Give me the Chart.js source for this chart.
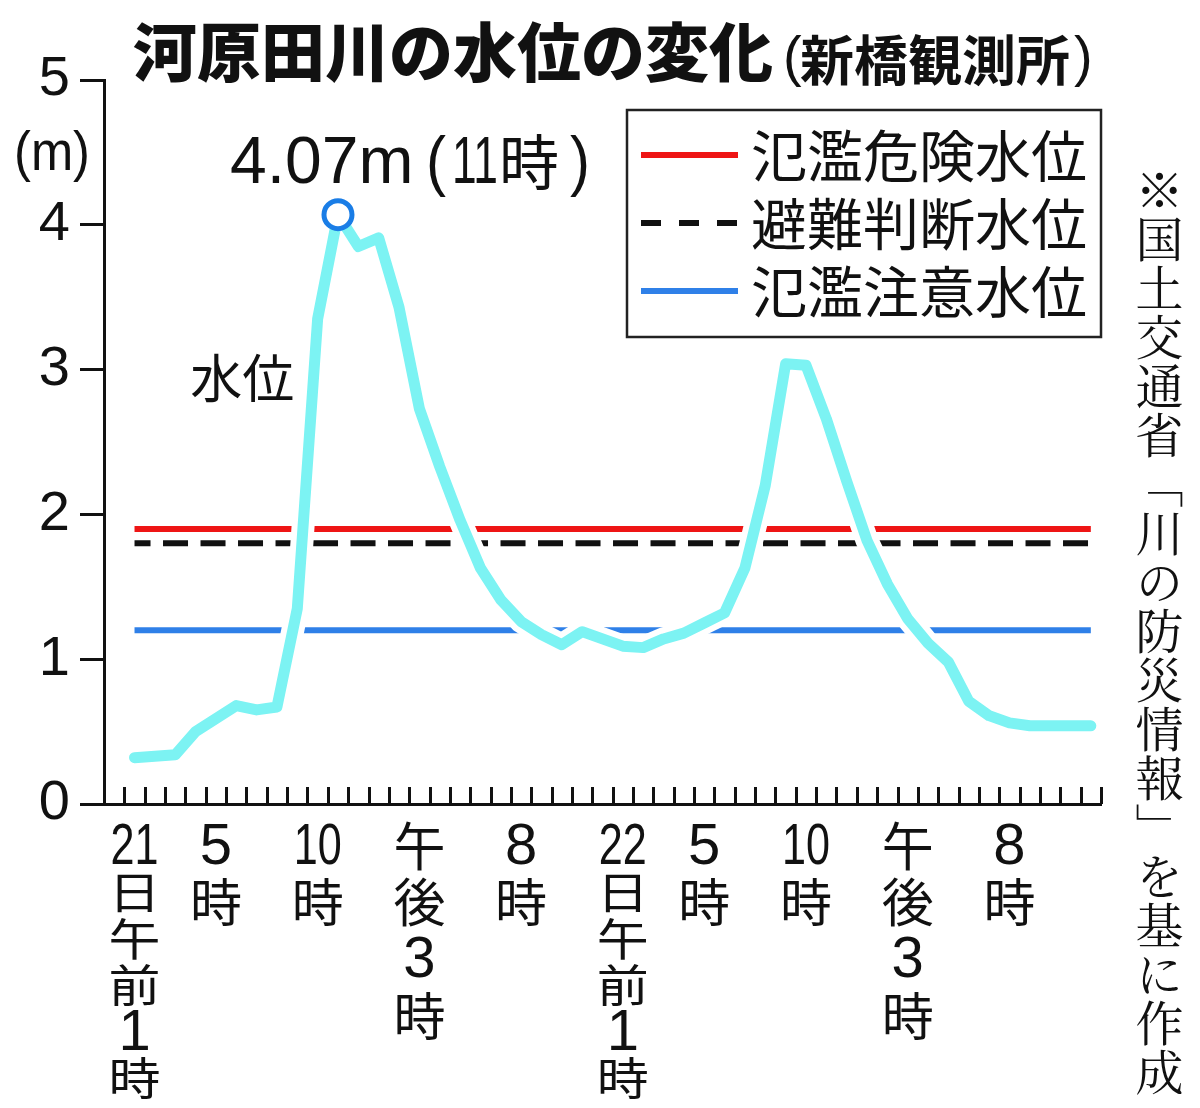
<!DOCTYPE html>
<html lang="ja">
<head>
<meta charset="utf-8">
<title>河原田川の水位の変化</title>
<script src="https://cdn.jsdelivr.net/npm/chart.js@4.4.1/dist/chart.umd.min.js"></script>
<style>
  html, body { margin: 0; padding: 0; background: #fff; }
  #wrap { position: relative; width: 1200px; height: 1108px; }
  #note {
    position: absolute; left: 1135px; top: 166px;
    writing-mode: vertical-rl;
    font-family: "Noto Serif CJK JP", "Noto Sans CJK JP", serif;
    font-size: 48px; line-height: 1; letter-spacing: 1px; color: #111;
  }
</style>
</head>
<body>
<div id="wrap">
  <canvas id="levelChart" width="1200" height="1108"></canvas>
  <div id="note">※国土交通省「川の防災情報」を基に作成</div>
</div>
<script>
// hours 0..48 (21日0時 .. 23日0時), one slot per hour
const hours = Array.from({length: 49}, (_, i) => i);

// x tick labels (vertical stacks), only every few hours
const tickLabels = {
  1: ['21', '日', '午', '前', '1', '時'],
  5: ['5', '時'],
  10: ['10', '時'],
  15: ['午', '後', '3', '時'],
  20: ['8', '時'],
  25: ['22', '日', '午', '前', '1', '時'],
  29: ['5', '時'],
  34: ['10', '時'],
  39: ['午', '後', '3', '時'],
  44: ['8', '時']
};

// water level (m), 新橋観測所
const waterLevel = [null,
  0.32, 0.33, 0.34, 0.50, 0.59, 0.68, 0.65, 0.67, 1.35, 3.35,
  4.07, 3.85, 3.91, 3.43, 2.73, 2.33, 1.96, 1.63, 1.41, 1.26,
  1.17, 1.10, 1.19, 1.14, 1.09, 1.08, 1.14, 1.18, 1.25, 1.32,
  1.63, 2.20, 3.04, 3.03, 2.66, 2.23, 1.82, 1.52, 1.28, 1.11,
  0.98, 0.71, 0.61, 0.56, 0.54, 0.54, 0.54, 0.54];

const dangerLevel = 1.9;    // 氾濫危険水位
const evacLevel = 1.8;      // 避難判断水位
const cautionLevel = 1.2;   // 氾濫注意水位

const yTicks = [0, 1, 2, 3, 4, 5];

const flat = v => waterLevel.map(d => (d === null ? null : v));
const peakValue = Math.max(...waterLevel.filter(d => d !== null));
const peakIndex = waterLevel.indexOf(peakValue);
const peakData = waterLevel.map((d, i) => (i === peakIndex ? d : null));

const CJK = '"Noto Sans CJK JP", sans-serif';
const LAT = '"Liberation Sans", Arial, sans-serif';

const overlay = {
  id: 'overlay',
  afterDraw(chart) {
    const ctx = chart.ctx;
    const x = chart.scales.x;
    const y = chart.scales.y;
    const slot = (x.right - x.left) / hours.length;

    ctx.save();
    ctx.fillStyle = '#111';
    ctx.strokeStyle = '#111';

    // x tick marks, pointing up, on the hour boundaries
    ctx.lineWidth = 3;
    ctx.beginPath();
    hours.forEach(h => {
      const px = Math.round(x.getPixelForValue(h) + slot / 2) + 0.5;
      ctx.moveTo(px, y.bottom);
      ctx.lineTo(px, y.bottom - 17);
    });
    ctx.stroke();

    // x tick labels
    ctx.textAlign = 'center';
    ctx.textBaseline = 'middle';
    Object.keys(tickLabels).forEach(k => {
      const lines = tickLabels[k];
      const px = x.getPixelForValue(Number(k));
      const long = lines.length > 4;
      const step = long ? 46.4 : 56.6;
      lines.forEach((t, j) => {
        const py = y.bottom + 42 + j * step;
        if (/^\d+$/.test(t)) {
          ctx.font = '58px ' + LAT;
          ctx.fillText(t, px, py + 2, 48);
        } else {
          ctx.save();
          ctx.translate(px, py);
          ctx.scale(1, long ? 0.86 : 1);
          ctx.font = '52px ' + CJK;
          ctx.fillText(t, 0, 0);
          ctx.restore();
        }
      });
    });

    // unit label
    ctx.font = '56px ' + LAT;
    ctx.fillText('(m)', 52, y.getPixelForValue(4.5) + 2, 76);

    // title
    ctx.textAlign = 'left';
    ctx.font = '900 64px ' + CJK;
    ctx.fillText('河原田川の水位の変化', 133, 52, 650);
    ctx.font = '56px ' + LAT;
    ctx.fillText('(', 783, 60);
    ctx.fillText(')', 1074, 60);
    ctx.font = 'bold 54px ' + CJK;
    ctx.fillText('新橋観測所', 800, 60, 272);

    // series label
    ctx.font = '52px ' + CJK;
    ctx.textAlign = 'center';
    ctx.fillText('水位', x.getPixelForValue(6.3), y.getPixelForValue(2.94));

    // peak annotation
    const pkx = x.getPixelForValue(peakIndex);
    const pky = y.getPixelForValue(peakValue) - 52;
    ctx.textAlign = 'left';
    const parts = [
      [peakValue.toFixed(2) + 'm', '66px ' + LAT, -108, 188],
      ['(', '66px ' + LAT, 88, 20],
      [String(peakIndex), '66px ' + LAT, 114, 46],
      ['時', '60px ' + CJK, 161, 62],
      [')', '66px ' + LAT, 232, 20]
    ];
    parts.forEach(([t, f, dx, w]) => {
      ctx.font = f;
      ctx.fillText(t, pkx + dx, pky + (t === '時' ? 0 : 2), w);
    });

    // legend box
    const box = {l: 627, t: y.top + 30, r: x.right, b: y.top + 257};
    ctx.lineWidth = 2.5;
    ctx.strokeStyle = '#222';
    ctx.strokeRect(box.l, box.t, box.r - box.l, box.b - box.t);
    const rows = [
      {ds: chart.data.datasets[3], cy: box.t + 45, dash: []},
      {ds: chart.data.datasets[4], cy: box.t + 113, dash: [20, 18]},
      {ds: chart.data.datasets[5], cy: box.t + 181, dash: []}
    ];
    rows.forEach(r => {
      ctx.strokeStyle = r.ds.borderColor;
      ctx.lineWidth = 6;
      ctx.setLineDash(r.dash);
      ctx.beginPath();
      ctx.moveTo(box.l + 14, r.cy);
      ctx.lineTo(box.l + 111, r.cy);
      ctx.stroke();
      ctx.setLineDash([]);
      ctx.fillStyle = '#111';
      ctx.font = '56px ' + CJK;
      ctx.fillText(r.ds.label, box.l + 124, r.cy + 1, 338);
    });
    ctx.restore();
  }
};

new Chart(document.getElementById('levelChart').getContext('2d'), {
  type: 'line',
  data: {
    labels: hours,
    datasets: [
      {
        label: 'ピーク',
        data: peakData,
        showLine: false,
        pointRadius: 14,
        pointBorderWidth: 5,
        pointBorderColor: '#1a7de6',
        pointBackgroundColor: '#ffffff',
        order: 0
      },
      {
        label: '水位',
        data: waterLevel,
        borderColor: '#7cf3f3',
        borderWidth: 11,
        borderJoinStyle: 'round',
        borderCapStyle: 'round',
        pointRadius: 0,
        tension: 0,
        order: 1
      },
      {
        label: '縁取り',
        data: waterLevel,
        borderColor: '#ffffff',
        borderWidth: 23,
        borderJoinStyle: 'round',
        borderCapStyle: 'round',
        pointRadius: 0,
        tension: 0,
        order: 2
      },
      {
        label: '氾濫危険水位',
        data: flat(dangerLevel),
        borderColor: '#ee1515',
        borderWidth: 6,
        pointRadius: 0,
        order: 3
      },
      {
        label: '避難判断水位',
        data: flat(evacLevel),
        borderColor: '#111111',
        borderWidth: 6,
        borderDash: [25, 12.5],
        borderDashOffset: 9,
        pointRadius: 0,
        order: 4
      },
      {
        label: '氾濫注意水位',
        data: flat(cautionLevel),
        borderColor: '#2f80e8',
        borderWidth: 6,
        pointRadius: 0,
        order: 5
      }
    ]
  },
  options: {
    responsive: false,
    animation: false,
    layout: { padding: { top: 80, right: 99, left: 0, bottom: 0 } },
    plugins: {
      legend: { display: false },
      tooltip: { enabled: false }
    },
    scales: {
      x: {
        type: 'category',
        offset: true,
        grid: { display: true, drawOnChartArea: false, drawTicks: false },
        border: { display: true, width: 3, color: '#111' },
        ticks: { display: false },
        afterFit: s => { s.height = 304; }
      },
      y: {
        min: 0,
        max: 5,
        afterBuildTicks: s => { s.ticks = yTicks.map(v => ({value: v})); },
        ticks: {
          color: '#111',
          padding: 10,
          font: { family: 'Liberation Sans', size: 56 }
        },
        grid: { drawOnChartArea: false, drawTicks: true, tickLength: 24, tickWidth: 3, tickColor: '#111' },
        border: { display: true, width: 3, color: '#111' },
        afterFit: s => { s.width = 104; }
      }
    }
  },
  plugins: [overlay]
});
</script>
</body>
</html>
